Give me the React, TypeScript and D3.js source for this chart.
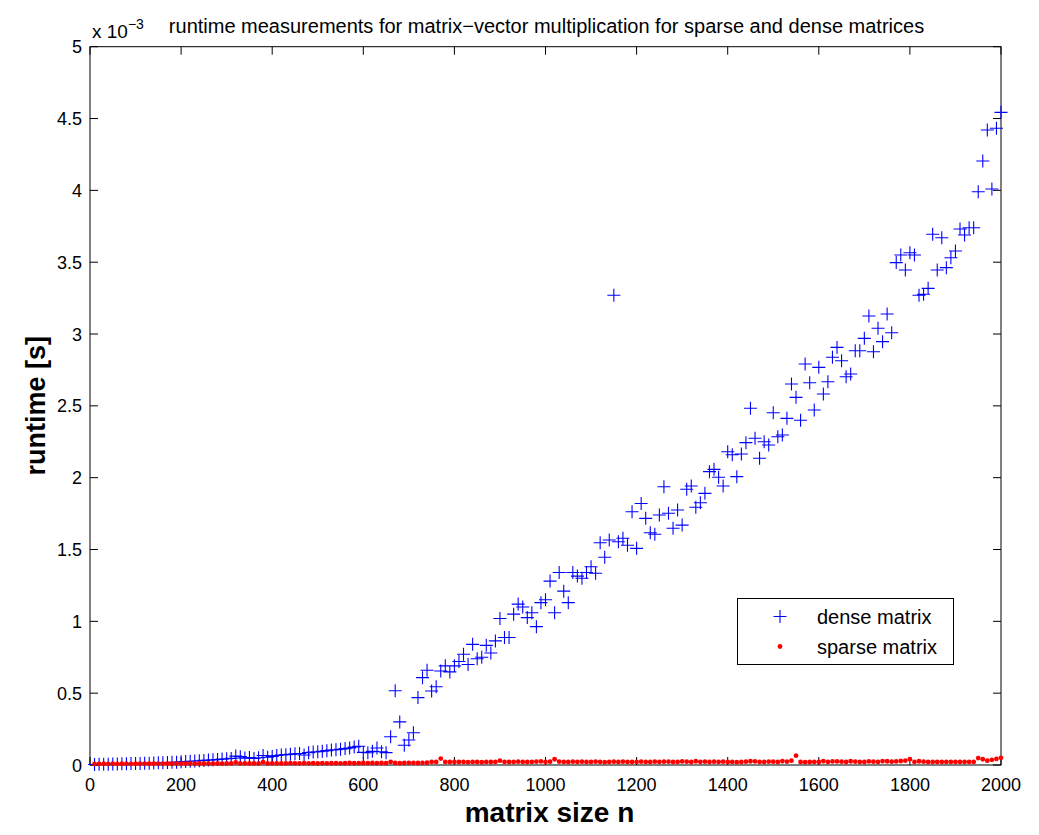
import React from "react";
import * as d3 from "d3";

const sizes: number[] = d3.range(10, 2001, 10);

// dense matrix runtime, units of 1e-3 s, n = 10..2000 step 10
const denseRuntime: number[] = [
  0.004, 0.005, 0.005, 0.006, 0.007, 0.007, 0.008, 0.009, 0.010, 0.010,
  0.011, 0.012, 0.013, 0.014, 0.015, 0.016, 0.017, 0.019, 0.020, 0.022,
  0.024, 0.026, 0.028, 0.030, 0.032, 0.034, 0.036, 0.038, 0.041, 0.044,
  0.046, 0.062, 0.058, 0.048, 0.052, 0.046, 0.050, 0.066, 0.054, 0.060,
  0.066, 0.070, 0.072, 0.074, 0.078, 0.080, 0.070, 0.086, 0.090, 0.092,
  0.096, 0.100, 0.104, 0.106, 0.110, 0.114, 0.118, 0.125, 0.130, 0.088,
  0.085, 0.095, 0.118, 0.092, 0.086, 0.197, 0.517, 0.300, 0.137, 0.174,
  0.225, 0.469, 0.608, 0.660, 0.515, 0.545, 0.654, 0.690, 0.648, 0.690,
  0.720, 0.771, 0.700, 0.840, 0.740, 0.750, 0.833, 0.780, 0.864, 1.020,
  0.887, 0.887, 1.050, 1.120, 1.100, 1.026, 1.060, 0.963, 1.130, 1.150,
  1.280, 1.060, 1.340, 1.210, 1.130, 1.340, 1.315, 1.300, 1.340, 1.380,
  1.335, 1.547, 1.446, 1.566, 3.270, 1.554, 1.578, 1.530, 1.763, 1.508,
  1.820, 1.717, 1.617, 1.606, 1.740, 1.937, 1.752, 1.648, 1.775, 1.670,
  1.919, 1.942, 1.794, 1.826, 1.891, 2.042, 2.058, 2.003, 1.942, 2.181,
  2.160, 2.007, 2.165, 2.244, 2.483, 2.274, 2.135, 2.250, 2.227, 2.452,
  2.285, 2.297, 2.413, 2.652, 2.559, 2.400, 2.791, 2.661, 2.471, 2.768,
  2.583, 2.668, 2.838, 2.907, 2.814, 2.703, 2.722, 2.884, 2.884, 2.970,
  3.125, 2.877, 3.040, 2.947, 3.139, 3.009, 3.497, 3.550, 3.446, 3.566,
  3.550, 3.270, 3.277, 3.318, 3.694, 3.446, 3.670, 3.462, 3.531, 3.578,
  3.731, 3.689, 3.740, 3.740, 3.990, 4.204, 4.420, 4.009, 4.432, 4.543,
];

// sparse matrix runtime, units of 1e-3 s
const sparseRuntime: number[] = [
  0.008, 0.008, 0.009, 0.008, 0.009, 0.008, 0.009, 0.009, 0.008, 0.009,
  0.009, 0.010, 0.009, 0.010, 0.009, 0.010, 0.010, 0.009, 0.010, 0.010,
  0.010, 0.011, 0.010, 0.011, 0.010, 0.011, 0.010, 0.011, 0.010, 0.011,
  0.012, 0.018, 0.011, 0.012, 0.011, 0.012, 0.011, 0.020, 0.011, 0.012,
  0.012, 0.011, 0.012, 0.013, 0.012, 0.012, 0.013, 0.012, 0.013, 0.012,
  0.013, 0.012, 0.013, 0.013, 0.012, 0.013, 0.014, 0.013, 0.013, 0.014,
  0.013, 0.014, 0.013, 0.014, 0.013, 0.022, 0.014, 0.013, 0.014, 0.015,
  0.015, 0.014, 0.015, 0.016, 0.022, 0.021, 0.045, 0.022, 0.021, 0.022,
  0.021, 0.022, 0.020, 0.022, 0.021, 0.019, 0.022, 0.021, 0.022, 0.030,
  0.022, 0.021, 0.022, 0.023, 0.022, 0.021, 0.022, 0.024, 0.025, 0.022,
  0.023, 0.040, 0.024, 0.022, 0.021, 0.023, 0.022, 0.024, 0.021, 0.022,
  0.024, 0.022, 0.020, 0.022, 0.023, 0.021, 0.024, 0.022, 0.021, 0.022,
  0.024, 0.022, 0.021, 0.023, 0.022, 0.024, 0.023, 0.021, 0.022, 0.025,
  0.023, 0.021, 0.026, 0.022, 0.024, 0.021, 0.023, 0.022, 0.024, 0.021,
  0.022, 0.020, 0.021, 0.023, 0.026, 0.025, 0.022, 0.021, 0.024, 0.023,
  0.021, 0.027, 0.024, 0.030, 0.065, 0.021, 0.020, 0.021, 0.022, 0.021,
  0.027, 0.022, 0.025, 0.025, 0.023, 0.021, 0.026, 0.024, 0.022, 0.021,
  0.025, 0.023, 0.022, 0.027, 0.026, 0.023, 0.025, 0.028, 0.030, 0.040,
  0.022, 0.026, 0.023, 0.021, 0.022, 0.022, 0.022, 0.022, 0.022, 0.022,
  0.022, 0.022, 0.022, 0.022, 0.048, 0.040, 0.030, 0.036, 0.042, 0.050,
];

const xTicks: number[] = d3.range(0, 2001, 200);
const yTicks: number[] = d3.range(0, 5.01, 0.5);

const titleText = "runtime measurements for matrix\u2212vector multiplication for sparse and dense matrices";
const xLabel = "matrix size n";
const yLabel = "runtime [s]";
const legendLabels = ["dense matrix", "sparse matrix"];

const FONT = "'Liberation Sans', Arial, Helvetica, sans-serif";

export default function App() {
  const W = 1039, H = 835;
  const L = 90, R = 1001, T = 46.7, B = 765;
  const x = d3.scaleLinear().domain([0, 2000]).range([L, R]);
  const y = d3.scaleLinear().domain([0, 5]).range([B, T]);
  const tl = 8;
  const cs = 6.5;

  const crossPath = (px: number, py: number) =>
    `M${px - cs},${py}H${px + cs}M${px},${py - cs}V${py + cs}`;

  const dense = sizes.map((n, i) => crossPath(x(n), y(denseRuntime[i]))).join("");

  return (
    <svg width={W} height={H} style={{ position: "absolute", left: 0, top: 0, background: "#fff" }}
      fontFamily={FONT}>
      <rect x={0} y={0} width={W} height={H} fill="#fff" />
      <rect x={L} y={T} width={R - L} height={B - T} fill="none" stroke="#000" strokeWidth={1} />
      {xTicks.map((t) => (
        <g key={"xt" + t}>
          <line x1={x(t)} x2={x(t)} y1={B} y2={B - tl} stroke="#000" />
          <line x1={x(t)} x2={x(t)} y1={T} y2={T + tl} stroke="#000" />
          <text x={x(t)} y={791} fontSize={18} textAnchor="middle" fill="#000">{t}</text>
        </g>
      ))}
      {yTicks.map((t) => (
        <g key={"yt" + t}>
          <line x1={L} x2={L + tl} y1={y(t)} y2={y(t)} stroke="#000" />
          <line x1={R} x2={R - tl} y1={y(t)} y2={y(t)} stroke="#000" />
          <text x={82} y={y(t) + 6.5} fontSize={18} textAnchor="end" fill="#000">{d3.format("~g")(t)}</text>
        </g>
      ))}
      <text x={92} y={38} fontSize={19} fill="#000">x 10<tspan dy={-9} fontSize={14}>−3</tspan></text>
      <text x={(L + R) / 2 + 1} y={33} fontSize={20} textAnchor="middle" fill="#000">{titleText}</text>
      <path d={dense} stroke="#0000ff" strokeWidth={1.1} fill="none" />
      {sizes.map((n, i) => (
        <circle key={"s" + n} cx={x(n)} cy={y(sparseRuntime[i])} r={2.4} fill="#ff0000" />
      ))}
      <text x={(L + R) / 2 + 4} y={822} fontSize={28} fontWeight="bold" textAnchor="middle" fill="#000">{xLabel}</text>
      <text transform={`translate(45,${(T + B) / 2}) rotate(-90)`} fontSize={27} fontWeight="bold" textAnchor="middle" fill="#000">{yLabel}</text>
      <g>
        <rect x={737.5} y={598.5} width={216} height={66} fill="#fff" stroke="#000" strokeWidth={1} />
        <path d={crossPath(780, 616.5)} stroke="#0000ff" strokeWidth={1.1} />
        <text x={817} y={624} fontSize={20} fill="#000">{legendLabels[0]}</text>
        <circle cx={780} cy={646.5} r={2.4} fill="#ff0000" />
        <text x={817} y={654} fontSize={20} fill="#000">{legendLabels[1]}</text>
      </g>
    </svg>
  );
}
